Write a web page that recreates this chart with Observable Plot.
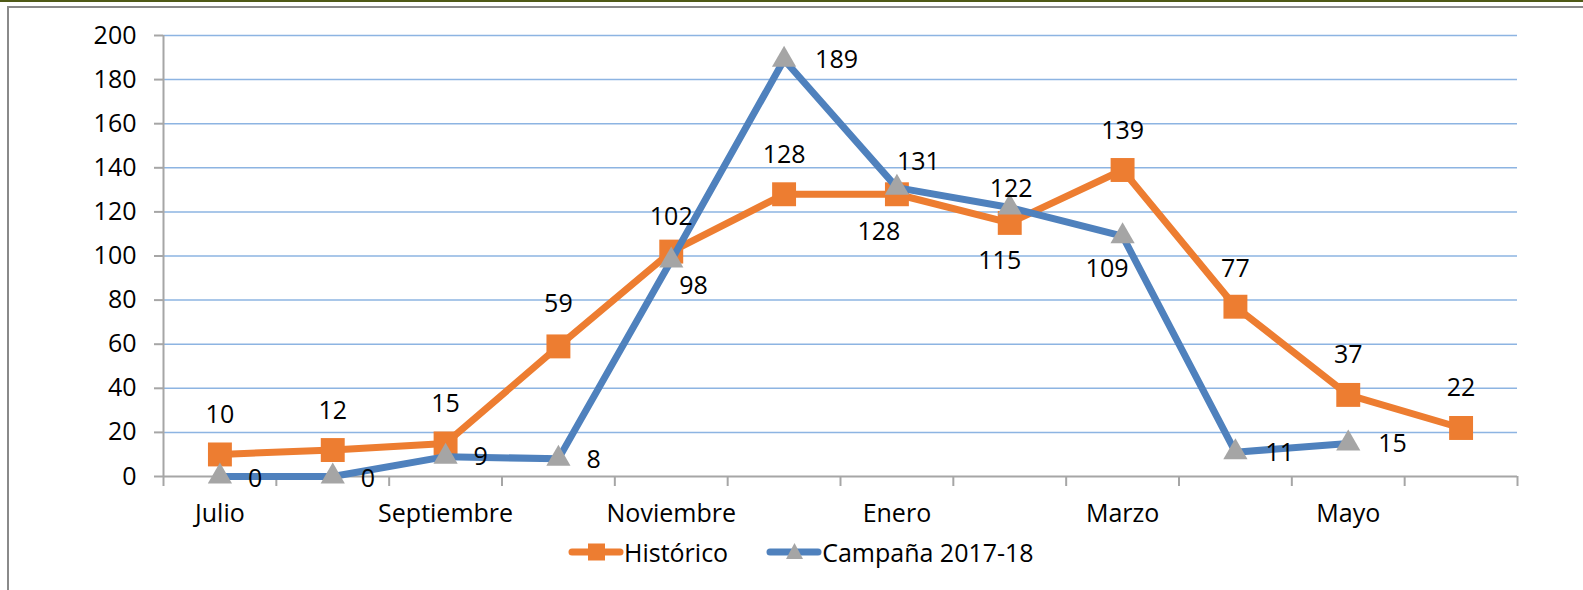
<!DOCTYPE html>
<html>
<head>
<meta charset="utf-8">
<script src="https://cdn.jsdelivr.net/npm/d3@7"></script>
<script src="https://cdn.jsdelivr.net/npm/@observablehq/plot@0.6"></script>
<style>
  html, body { margin: 0; padding: 0; background: #fff; width: 1583px; height: 590px; overflow: hidden; }
  #wrap { position: relative; width: 1583px; height: 590px; font-family: "Open Sans", sans-serif; }
  #topline { position: absolute; left: 0; top: 0; width: 1583px; height: 2px; background: #4f5a17; }
  #frame { position: absolute; left: 7px; top: 6px; width: 1576px; height: 584px; border-top: 2px solid #8a8a8a; border-left: 2px solid #8a8a8a; box-sizing: border-box; }
  #chart { position: absolute; left: 0; top: 0; }
  #legend { position: absolute; left: 568px; top: 535px; display: flex; align-items: center; font-size: 25px; color: #000; }
  .item { display: flex; align-items: center; margin-right: 38px; }
  .item svg { display: block; }
</style>
</head>
<body>
<div id="wrap">
  <div id="topline"></div>
  <div id="frame"></div>
  <div id="chart"></div>
  <div id="legend"></div>
</div>
<script>
const months = ["Julio","Agosto","Septiembre","Octubre","Noviembre","Diciembre","Enero","Febrero","Marzo","Abril","Mayo","Junio"];
const labeledMonths = ["Julio","Septiembre","Noviembre","Enero","Marzo","Mayo"];
const historico = [10,12,15,59,102,128,128,115,139,77,37,22];
const campana = [0,0,9,8,98,189,131,122,109,11,15];
const yTicks = [0,20,40,60,80,100,120,140,160,180,200];
const seriesNames = ["Histórico","Campaña 2017-18"];

// label offsets (styling of data labels)
const histLabelDx = [0,0,0,0,0,0,-18,-10,0,0,0,0];
const histLabelDy = [-39,-39,-39,-42,-35,-39,38,38,-39,-38,-40,-40];
const campLabelDx = [28,28,28,28,8,31,0,-20,-37,30,30];
const campLabelDy = [2,2,0,1,26,0,-26,-18,33,1,1];

const ORANGE = "#ED7D31", BLUE = "#4F81BD", GRAY = "#A5A5A5", AXIS = "#A6A6A6", GRID = "#8DB4E2";
const FS = 25;

const hist = historico.map((v, i) => ({x: i + 0.5, y: v, dx: histLabelDx[i], dy: histLabelDy[i]}));
const camp = campana.map((v, i) => ({x: i + 0.5, y: v, dx: campLabelDx[i], dy: campLabelDy[i]}));

const chart = Plot.plot({
  width: 1583,
  height: 530,
  marginLeft: 163,
  marginRight: 66,
  marginTop: 35,
  marginBottom: 54,
  style: {fontFamily: "Open Sans, sans-serif", fontSize: FS + "px", color: "#000", background: "transparent"},
  x: {domain: [0, months.length], axis: null},
  y: {domain: [0, 200], axis: null},
  marks: [
    Plot.gridY(yTicks.filter(d => d > 0), {stroke: GRID, strokeOpacity: 1, strokeWidth: 1.5}),
    Plot.ruleY([0], {stroke: AXIS, strokeWidth: 2}),
    Plot.ruleX([0], {stroke: AXIS, strokeWidth: 2}),
    Plot.axisY({ticks: yTicks, tickSize: 9, tickPadding: 18, stroke: AXIS, strokeWidth: 2, fill: "#000", fontSize: FS, label: null}),
    Plot.axisX({ticks: d3.range(0, months.length + 1), tickSize: 10, tickFormat: () => "", stroke: AXIS, strokeWidth: 2, label: null}),
    Plot.axisX({ticks: labeledMonths.map(m => months.indexOf(m) + 0.5), tickSize: 0, tickPadding: 28, tickFormat: d => months[Math.round(d - 0.5)], fill: "#000", fontSize: FS, label: null}),
    Plot.line(hist, {x: "x", y: "y", stroke: ORANGE, strokeWidth: 7, strokeLinejoin: "round"}),
    Plot.dot(hist, {x: "x", y: "y", symbol: "square", r: 13.5, fill: ORANGE, stroke: null}),
    Plot.line(camp, {x: "x", y: "y", stroke: BLUE, strokeWidth: 7, strokeLinejoin: "round"}),
    Plot.dot(camp, {x: "x", y: "y", symbol: "triangle", r: 9, fill: GRAY, stroke: null}),
    ...hist.map(d => Plot.text([d], {x: "x", y: "y", text: "y", dx: d.dx, dy: d.dy, fill: "#000", fontSize: FS, textAnchor: "middle"})),
    ...camp.map(d => Plot.text([d], {x: "x", y: "y", text: "y", dx: d.dx, dy: d.dy, fill: "#000", fontSize: FS, textAnchor: "start"}))
  ]
});
document.getElementById("chart").appendChild(chart);

// legend
const legend = document.getElementById("legend");
const legendDefs = [
  {name: seriesNames[0], color: ORANGE, marker: "square"},
  {name: seriesNames[1], color: BLUE, marker: "triangle"}
];
legendDefs.forEach(def => {
  const item = document.createElement("div");
  item.className = "item";
  const s = d3.create("svg").attr("width", 56).attr("height", 30);
  s.append("line").attr("x1", 4).attr("x2", 52).attr("y1", 15).attr("y2", 15)
    .attr("stroke", def.color).attr("stroke-width", 7).attr("stroke-linecap", "round");
  if (def.marker === "square") {
    s.append("rect").attr("x", 20).attr("y", 6.5).attr("width", 17).attr("height", 17).attr("fill", ORANGE);
  } else {
    s.append("path").attr("d", "M28.5,6 L37,22 L20,22 Z").attr("fill", GRAY);
  }
  item.appendChild(s.node());
  const t = document.createElement("span");
  t.textContent = def.name;
  item.appendChild(t);
  legend.appendChild(item);
});
</script>
</body>
</html>
